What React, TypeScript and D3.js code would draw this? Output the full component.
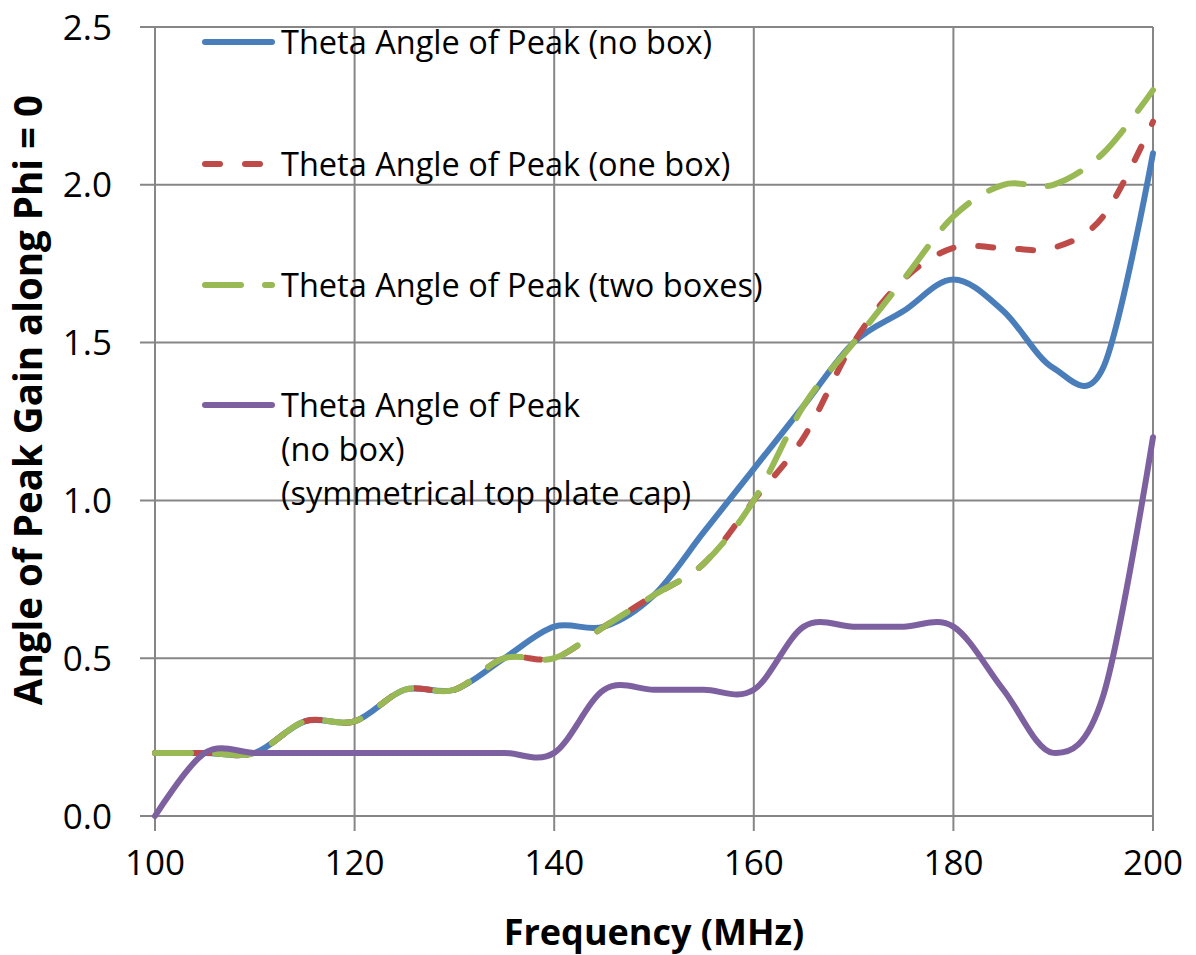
import React from "react";
import * as d3 from "d3";

const freqs = [100, 105, 110, 115, 120, 125, 130, 135, 140, 145, 150, 155, 160, 165, 170, 175, 180, 185, 190, 195, 200];
const noBox = [0.2, 0.2, 0.2, 0.3, 0.3, 0.4, 0.4, 0.5, 0.6, 0.6, 0.7, 0.9, 1.1, 1.3, 1.5, 1.6, 1.7, 1.6, 1.42, 1.42, 2.1];
const oneBox = [0.2, 0.2, 0.2, 0.3, 0.3, 0.4, 0.4, 0.5, 0.5, 0.6, 0.7, 0.8, 1.0, 1.2, 1.5, 1.7, 1.8, 1.8, 1.8, 1.9, 2.2];
const twoBoxes = [0.2, 0.2, 0.2, 0.3, 0.3, 0.4, 0.4, 0.5, 0.5, 0.6, 0.7, 0.8, 1.0, 1.3, 1.5, 1.7, 1.9, 2.0, 2.0, 2.1, 2.3];
const symCap = [0.0, 0.2, 0.2, 0.2, 0.2, 0.2, 0.2, 0.2, 0.2, 0.4, 0.4, 0.4, 0.4, 0.6, 0.6, 0.6, 0.6, 0.4, 0.2, 0.38, 1.2];

const xTicks = [100, 120, 140, 160, 180, 200];
const yTicks = [0, 0.5, 1.0, 1.5, 2.0, 2.5];

const seriesNames = [
  ["Theta Angle of Peak (no box)"],
  ["Theta Angle of Peak (one box)"],
  ["Theta Angle of Peak (two boxes)"],
  ["Theta Angle of Peak", "(no box)", "(symmetrical top plate cap)"],
];
const seriesColors = ["#4a7ebb", "#be4b48", "#98b954", "#7d60a0"];
const seriesDash = ["none", "15 25", "36 24", "none"];
const seriesData = [noBox, oneBox, twoBoxes, symCap];

const W = 1196;
const H = 955;
const left = 155;
const right = 1153;
const top = 27;
const bottom = 816;

export default function App() {
  const x = d3.scaleLinear().domain([100, 200]).range([left, right]);
  const y = d3.scaleLinear().domain([0, 2.5]).range([bottom, top]);
  const line = d3
    .line<number>()
    .x((_, i) => x(freqs[i]))
    .y((d) => y(d))
    .curve(d3.curveCardinal.tension(0));

  const font = "'Open Sans', 'Liberation Sans', sans-serif";
  const gridColor = "#868686";
  const legendY = [42, 164, 285, 405];

  return (
    <svg
      width={W}
      height={H}
      style={{ position: "absolute", left: 0, top: 0, background: "#fff" }}
      fontFamily={font}
    >
      <rect width={W} height={H} fill="#fff" />
      {yTicks.map((t) => (
        <line key={"h" + t} x1={left - 15} x2={right} y1={y(t)} y2={y(t)} stroke={gridColor} strokeWidth={2} />
      ))}
      {xTicks.map((t) => (
        <line key={"v" + t} x1={x(t)} x2={x(t)} y1={top} y2={bottom + 15} stroke={gridColor} strokeWidth={2} />
      ))}
      {yTicks.map((t) => (
        <text key={"yl" + t} x={112} y={y(t)} dy="0.36em" textAnchor="end" fontSize={35} fill="#000">
          {t.toFixed(1)}
        </text>
      ))}
      {xTicks.map((t) => (
        <text key={"xl" + t} x={x(t)} y={875} textAnchor="middle" fontSize={35} fill="#000">
          {t}
        </text>
      ))}
      <text x={(left + right) / 2} y={945} textAnchor="middle" fontSize={36} fontWeight="bold" fill="#000">
        Frequency (MHz)
      </text>
      <text
        transform={`translate(42, 400) rotate(-90)`}
        textAnchor="middle"
        fontSize={38.5}
        fontWeight="bold"
        fill="#000"
      >
        Angle of Peak Gain along Phi = 0
      </text>
      {seriesData.map((d, i) => (
        <path
          key={"s" + i}
          d={line(d) || ""}
          fill="none"
          stroke={seriesColors[i]}
          strokeWidth={6}
          strokeDasharray={seriesDash[i]}
          strokeLinecap="round"
          strokeLinejoin="round"
        />
      ))}
      {seriesNames.map((lines, i) => (
        <g key={"lg" + i}>
          <line
            x1={205}
            x2={272}
            y1={legendY[i]}
            y2={legendY[i]}
            stroke={seriesColors[i]}
            strokeWidth={6}
            strokeDasharray={seriesDash[i]}
            strokeLinecap="round"
          />
          {lines.map((s, j) => (
            <text key={j} x={281} y={legendY[i] + j * 44} dy="0.36em" fontSize={32.5} fill="#000">
              {s}
            </text>
          ))}
        </g>
      ))}
    </svg>
  );
}
